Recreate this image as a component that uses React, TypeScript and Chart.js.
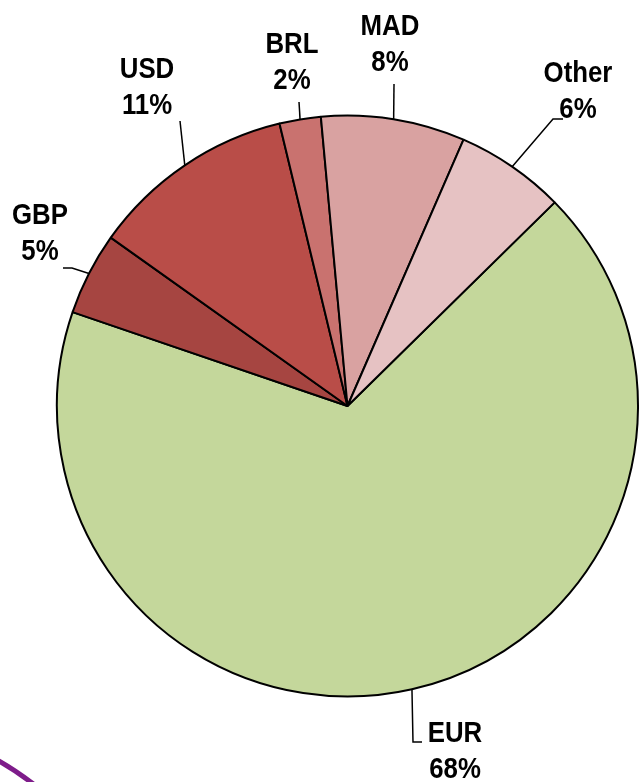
import React, { useEffect, useRef } from "react";
import { Chart, registerables } from "chart.js";

Chart.register(...registerables);

const categories = ["EUR", "GBP", "USD", "BRL", "MAD", "Other"];
const shares = [67.6, 4.6, 11.4, 2.3, 8.0, 6.1];
const sliceColors = ["#C4D79B", "#A64541", "#B94D48", "#C9726F", "#D9A2A1", "#E6C2C3"];

// annotation layout: text centre and leader-line path (after the slice edge point)
const labelLayout: { tx: number; ty: number; path: number[][] }[] = [
  { tx: 455, ty: 734, path: [[413, 742], [422, 742]] },
  { tx: 40, ty: 216, path: [[72, 268], [63, 268]] },
  { tx: 147, ty: 70, path: [[180, 121]] },
  { tx: 292, ty: 45, path: [[299, 102]] },
  { tx: 390, ty: 27, path: [[394, 84]] },
  { tx: 578, ty: 74, path: [[553, 119], [563, 119]] },
];

const LINE_GAP = 36;

const labelPlugin = {
  id: "pieLabels",
  afterDraw(chart: any) {
    const ctx = chart.ctx as CanvasRenderingContext2D;
    const meta = chart.getDatasetMeta(0);
    const data = chart.data.datasets[0].data as number[];
    const total = data.reduce((a, b) => a + b, 0);
    ctx.save();
    meta.data.forEach((arc: any, i: number) => {
      const p = arc.getProps(["x", "y", "startAngle", "endAngle", "outerRadius"], true);
      const mid = (p.startAngle + p.endAngle) / 2;
      const ex = p.x + Math.cos(mid) * p.outerRadius;
      const ey = p.y + Math.sin(mid) * p.outerRadius;
      const lay = labelLayout[i];
      ctx.beginPath();
      ctx.moveTo(ex, ey);
      lay.path.forEach(([x, y]) => ctx.lineTo(x, y));
      ctx.strokeStyle = "#000";
      ctx.lineWidth = 1.5;
      ctx.stroke();
      const pct = Math.round((data[i] / total) * 100) + "%";
      const lines = [chart.data.labels[i], pct];
      ctx.fillStyle = "#000";
      ctx.font = 'bold 30px "Liberation Sans", Arial, sans-serif';
      ctx.textAlign = "center";
      ctx.textBaseline = "middle";
      lines.forEach((t: string, k: number) => {
        ctx.save();
        ctx.translate(lay.tx, lay.ty + k * LINE_GAP);
        ctx.scale(0.86, 1);
        ctx.fillText(t, 0, 0);
        ctx.restore();
      });
    });
    // decorative purple arc in the bottom-left corner
    ctx.beginPath();
    ctx.moveTo(-3, 760);
    ctx.quadraticCurveTo(15, 770, 36, 786);
    ctx.strokeStyle = "#7E1C8A";
    ctx.lineWidth = 5;
    ctx.stroke();
    ctx.restore();
  },
};

export default function App() {
  const ref = useRef<HTMLCanvasElement | null>(null);
  useEffect(() => {
    if (!ref.current) return;
    const chart = new Chart(ref.current, {
      type: "pie",
      data: {
        labels: categories,
        datasets: [
          {
            data: shares,
            backgroundColor: sliceColors,
            borderColor: "#000",
            borderWidth: 2,
          },
        ],
      },
      options: {
        responsive: false,
        animation: false,
        rotation: 45.5,
        layout: { padding: { left: 56, right: 0, top: 114, bottom: 84 } },
        plugins: { legend: { display: false }, tooltip: { enabled: false } },
      },
      plugins: [labelPlugin],
    });
    return () => chart.destroy();
  }, []);
  return (
    <div style={{ position: "fixed", left: 0, top: 0, width: 639, height: 782, background: "#fff" }}>
      <canvas ref={ref} width={639} height={782} style={{ width: 639, height: 782 }} />
    </div>
  );
}
